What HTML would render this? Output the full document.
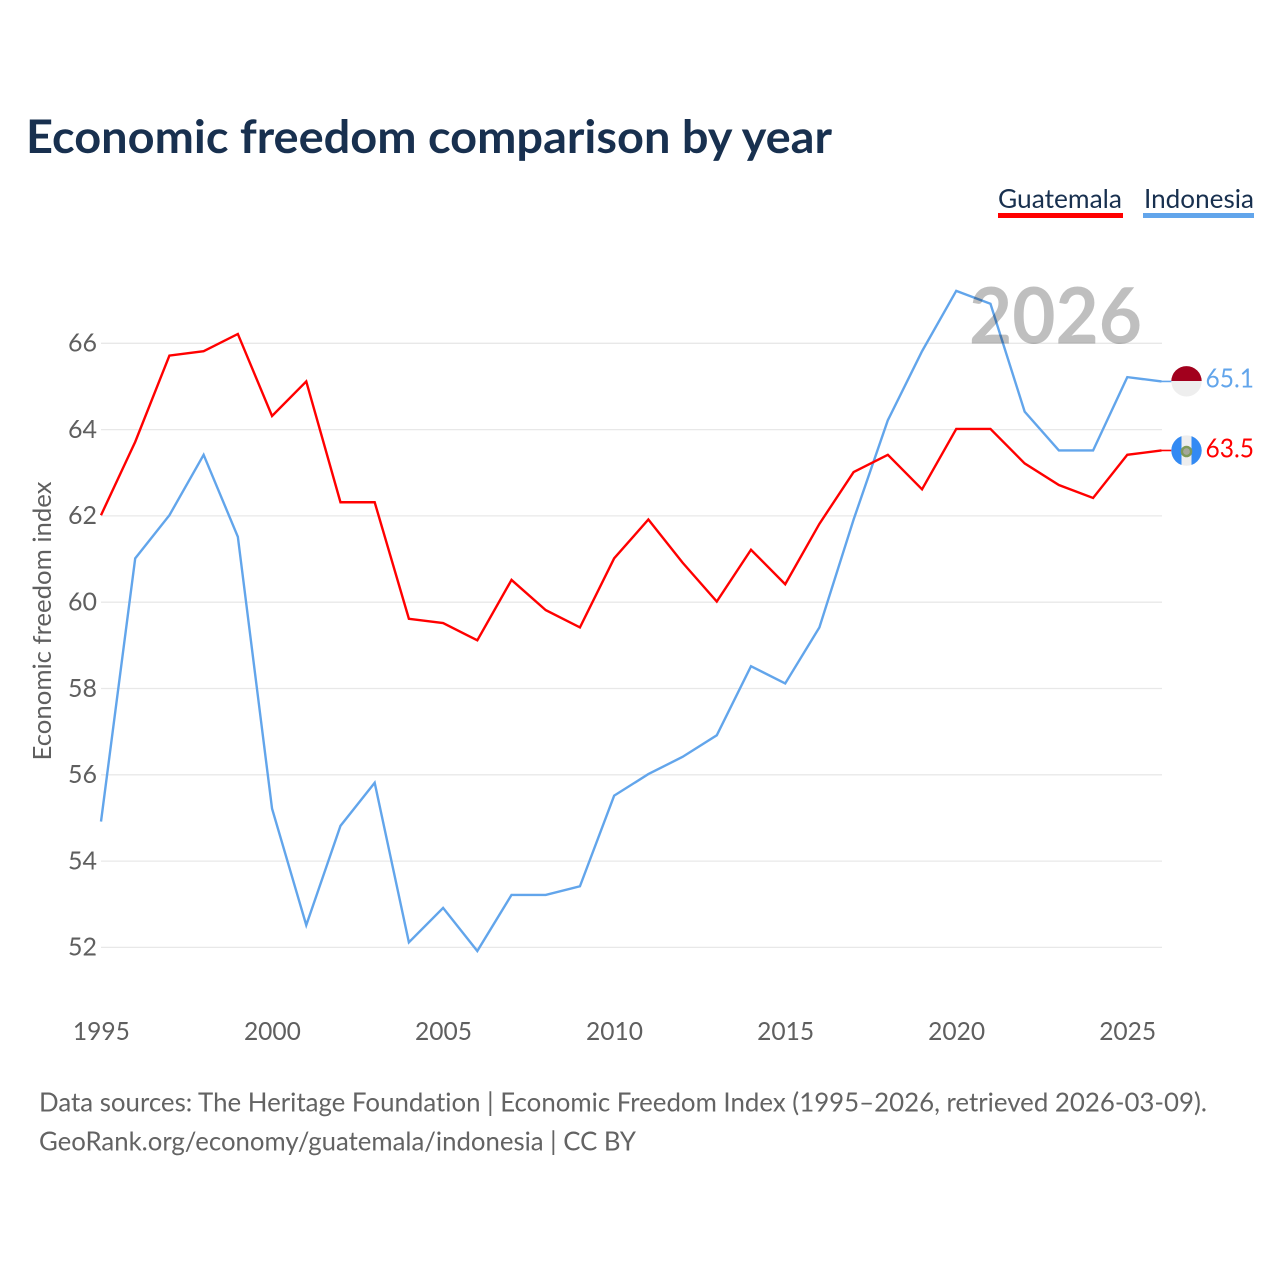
<!DOCTYPE html>
<html lang="en">
<head>
<meta charset="utf-8">
<title>Economic freedom comparison by year</title>
<style>
html,body{margin:0;padding:0;background:#fff;}
svg{display:block;font-family:"Lato","Carlito","Liberation Sans",sans-serif;font-variant-ligatures:none;}
</style>
</head>
<body>
<svg id="chart" xmlns="http://www.w3.org/2000/svg" width="1280" height="1280" viewBox="0 0 1280 1280">
  <defs>
    <clipPath id="clip-id"><circle cx="1186.5" cy="381.3" r="15.2"/></clipPath>
    <clipPath id="clip-gt"><circle cx="1186.5" cy="450.6" r="15.2"/></clipPath>
  </defs>
  <rect width="1280" height="1280" fill="#ffffff"/>
  <text x="26" y="153" font-size="46" font-weight="700" fill="#18304f" textLength="806" lengthAdjust="spacingAndGlyphs">Economic freedom comparison by year</text>

  <g>
    <g>
      <text x="998" y="208" font-size="26" fill="#18304f" textLength="124" lengthAdjust="spacingAndGlyphs">Guatemala</text>
      <rect x="998" y="213" width="125" height="5" fill="#ff0000"/>
    </g>
    <g>
      <text x="1144" y="208" font-size="26" fill="#18304f" textLength="110" lengthAdjust="spacingAndGlyphs">Indonesia</text>
      <rect x="1143" y="213" width="111" height="5" fill="#62a5eb"/>
    </g>
  </g>

  <g id="grid"></g>
  <g id="y-ticks"></g>
  <g id="x-ticks"></g>
  <text transform="translate(51 621) rotate(-90)" text-anchor="middle" font-size="25" fill="#5f5f5f" textLength="279" lengthAdjust="spacingAndGlyphs">Economic freedom index</text>

  <g id="series"></g>

  <text x="1142" y="343.5" text-anchor="end" font-size="78" font-weight="700" fill="#000000" fill-opacity="0.25" textLength="173" lengthAdjust="spacingAndGlyphs">2026</text>

  <g clip-path="url(#clip-id)">
    <rect x="1171" y="366" width="31" height="31" fill="#eeeeee"/>
    <rect x="1171" y="366" width="31" height="15" fill="#a2001d"/>
  </g>
  <g clip-path="url(#clip-gt)">
    <rect x="1171" y="435" width="31" height="31" fill="#eeeeee"/>
    <rect x="1171" y="435" width="10.5" height="31" fill="#338af3"/>
    <rect x="1191.5" y="435" width="10.5" height="31" fill="#338af3"/>
    <circle cx="1186.5" cy="451.5" r="4.6" fill="#a5a89a" stroke="#7f9a5a" stroke-width="2.4"/>
  </g>
  <text id="end-label-indonesia" x="1205.5" y="387.5" font-size="26" fill="#62a5eb" textLength="48.5" lengthAdjust="spacingAndGlyphs"></text>
  <text id="end-label-guatemala" x="1205.5" y="457.5" font-size="26" fill="#ff0000" textLength="48.5" lengthAdjust="spacingAndGlyphs"></text>

  <g>
    <text x="39" y="1111.5" font-size="26" fill="#636363" textLength="1168" lengthAdjust="spacingAndGlyphs">Data sources: The Heritage Foundation | Economic Freedom Index (1995–2026, retrieved 2026-03-09).</text>
    <text x="39" y="1150.5" font-size="26" fill="#636363" textLength="597" lengthAdjust="spacingAndGlyphs">GeoRank.org/economy/guatemala/indonesia | CC BY</text>
  </g>
</svg>
<script>
const years = [1995,1996,1997,1998,1999,2000,2001,2002,2003,2004,2005,2006,2007,2008,2009,2010,2011,2012,2013,2014,2015,2016,2017,2018,2019,2020,2021,2022,2023,2024,2025,2026];
const guatemala = [62.0,63.7,65.7,65.8,66.2,64.3,65.1,62.3,62.3,59.6,59.5,59.1,60.5,59.8,59.4,61.0,61.9,60.9,60.0,61.2,60.4,61.8,63.0,63.4,62.6,64.0,64.0,63.2,62.7,62.4,63.4,63.5];
const indonesia = [54.9,61.0,62.0,63.4,61.5,55.2,52.5,54.8,55.8,52.1,52.9,51.9,53.2,53.2,53.4,55.5,56.0,56.4,56.9,58.5,58.1,59.4,61.9,64.2,65.8,67.2,66.9,64.4,63.5,63.5,65.2,65.1];
const yTicks = [52,54,56,58,60,62,64,66];
const xTicks = [1995,2000,2005,2010,2015,2020,2025];

const NS = 'http://www.w3.org/2000/svg';
function xScale(year){ return 101 + (year - 1995) * 34.21; }
function yScale(v){ return 343.3 + (66 - v) * 43.15; }
function make(tag, attrs, parent){
  const el = document.createElementNS(NS, tag);
  for (const k in attrs) el.setAttribute(k, attrs[k]);
  parent.appendChild(el);
  return el;
}

const grid = document.getElementById('grid');
const yG = document.getElementById('y-ticks');
const xG = document.getElementById('x-ticks');
const seriesG = document.getElementById('series');

yTicks.forEach(function(t){
  const line = make('line', {x1:101, x2:1162, y1:yScale(t), y2:yScale(t), stroke:'#e8e8e8', 'stroke-width':1.3}, grid);
  
  
  const label = make('text', {x:97, y:yScale(t)+8.3, 'text-anchor':'end', 'font-size':25.5, fill:'#5f5f5f', textLength:29, lengthAdjust:'spacingAndGlyphs'}, yG);
  
  
  label.textContent = t;
});

xTicks.forEach(function(t){
  const label = make('text', {x:xScale(t)+0.4, y:1040, 'text-anchor':'middle', 'font-size':25.5, fill:'#5f5f5f', textLength:57, lengthAdjust:'spacingAndGlyphs'}, xG);
  
  
  label.textContent = t;
});

function drawSeries(values, color){
  const pts = values.map(function(v, i){ return xScale(years[i]).toFixed(2) + ',' + (yScale(v) - 0.7).toFixed(2); });
  return make('polyline', {points:pts.join(' '), fill:'none', stroke:color, 'stroke-width':2.4, 'stroke-linejoin':'miter'}, seriesG);
}
function drawConnector(values, color){
  const last = values.length - 1;
  return make('line', {x1:xScale(years[last]), x2:xScale(years[last]) + 10, y1:yScale(values[last]) - 0.7, y2:yScale(values[last]) - 0.7, stroke:color, 'stroke-width':1.6}, seriesG);
}
const indonesiaLine = drawSeries(indonesia, '#62a5eb');


const guatemalaLine = drawSeries(guatemala, '#ff0000');


const indonesiaConnector = drawConnector(indonesia, '#62a5eb');


const guatemalaConnector = drawConnector(guatemala, '#ff0000');



document.getElementById('end-label-indonesia').textContent = indonesia[indonesia.length - 1].toFixed(1);
document.getElementById('end-label-guatemala').textContent = guatemala[guatemala.length - 1].toFixed(1);
</script>
</body>
</html>
